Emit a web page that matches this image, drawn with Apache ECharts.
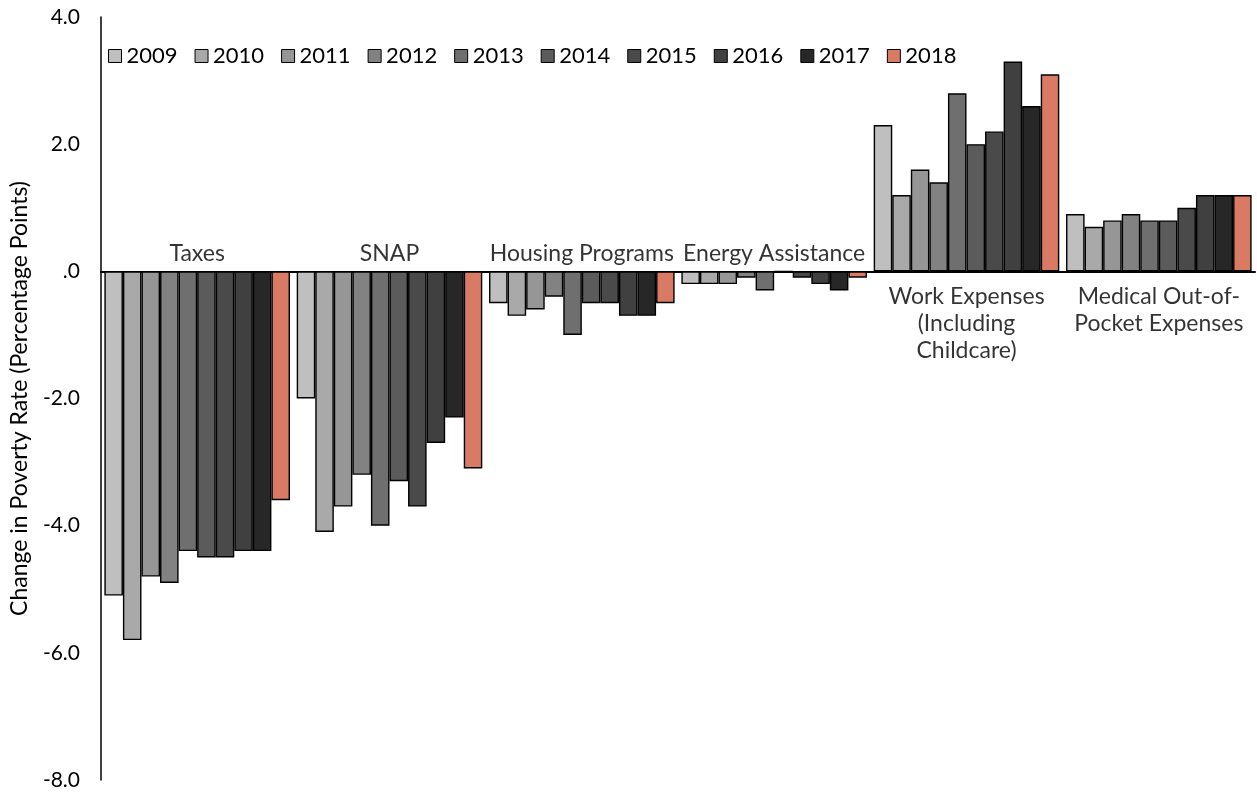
<!DOCTYPE html>
<html>
<head>
    <meta charset="UTF-8">
    <title>Change in Poverty Rate</title>
    <style>
        html, body { margin: 0; padding: 0; background: #fff; }
    </style>
</head>
<body>
<div id="container" style="width:1257px;height:795px;"></div>
<script type="text/javascript" src="https://cdn.jsdelivr.net/npm/echarts@6/dist/echarts.min.js"></script>
<script type="text/javascript">
    // categories (resource / expense elements)
    var categories = ['Taxes', 'SNAP', 'Housing Programs', 'Energy Assistance',
        'Work Expenses\n(Including\nChildcare)', 'Medical Out-of-\nPocket Expenses'];
    var years = ['2009', '2010', '2011', '2012', '2013', '2014', '2015', '2016', '2017', '2018'];

    // values per category, 2009..2018
    var taxes    = [-5.1, -5.8, -4.8, -4.9, -4.4, -4.5, -4.5, -4.4, -4.4, -3.6];
    var snap     = [-2.0, -4.1, -3.7, -3.2, -4.0, -3.3, -3.7, -2.7, -2.3, -3.1];
    var housing  = [-0.5, -0.7, -0.6, -0.4, -1.0, -0.5, -0.5, -0.7, -0.7, -0.5];
    var energy   = [-0.2, -0.2, -0.2, -0.1, -0.3, 0.0, -0.1, -0.2, -0.3, -0.1];
    var work     = [2.3, 1.2, 1.6, 1.4, 2.8, 2.0, 2.2, 3.3, 2.6, 3.1];
    var medical  = [0.9, 0.7, 0.8, 0.9, 0.8, 0.8, 1.0, 1.2, 1.2, 1.2];

    var colors = ['#bfbfbf', '#a9a9a9', '#969696', '#828282', '#6f6f6f',
        '#5b5b5b', '#4a4a4a', '#404040', '#272727', '#d97a64'];

    var rows = [taxes, snap, housing, energy, work, medical];
    var font = 'Lato';

    var dom = document.getElementById("container");
    var myChart = echarts.init(dom);

    var series = years.map(function (y, i) {
        return {
            name: y,
            type: 'bar',
            barGap: '0%',
            barCategoryGap: '3.5%',
            itemStyle: {
                color: colors[i],
                borderColor: '#000',
                borderWidth: 1.4
            },
            data: rows.map(function (r) { return r[i]; })
        };
    });

    // category names sit on the zero line: above it for the negative groups, below for the positive ones
    series.push({
        type: 'scatter',
        silent: true,
        symbolSize: 1,
        itemStyle: { color: 'transparent' },
        z: 5,
        label: {
            show: true,
            fontSize: 23,
            lineHeight: 27,
            color: '#000',
            fontFamily: font,
            formatter: function (p) { return categories[p.dataIndex]; }
        },
        data: categories.map(function (c, i) {
            var neg = rows[i][0] < 0;
            return {
                value: [i, 0],
                label: { position: neg ? 'top' : 'bottom', distance: neg ? 4 : 11 }
            };
        })
    });

    var option = {
        animation: false,
        textStyle: { fontFamily: font },
        legend: {
            data: years,
            left: 103,
            top: 40,
            itemWidth: 13,
            itemHeight: 13,
            itemGap: 17,
            icon: 'rect',
            itemStyle: { borderColor: '#000', borderWidth: 1 },
            textStyle: { fontSize: 22, color: '#000', fontFamily: font }
        },
        grid: { left: 101, right: 2, top: 17, bottom: 15, outerBoundsMode: 'none', containLabel: false },
        xAxis: {
            type: 'category',
            data: categories,
            axisLine: { onZero: true, lineStyle: { color: '#000', width: 2 } },
            axisTick: { show: false },
            axisLabel: { show: false }
        },
        yAxis: {
            type: 'value',
            min: -8,
            max: 4,
            interval: 2,
            name: 'Change in Poverty Rate (Percentage Points)',
            nameLocation: 'middle',
            nameGap: 70,
            nameTextStyle: { fontSize: 23, color: '#000', fontFamily: font },
            axisLine: { show: true, lineStyle: { color: '#000', width: 1.5 } },
            axisTick: { show: false },
            splitLine: { show: false },
            axisLabel: {
                margin: 21,
                fontSize: 21,
                color: '#000',
                fontFamily: font,
                formatter: function (v) { return v === 0 ? '.0' : v.toFixed(1); }
            }
        },
        series: series
    };

    myChart.setOption(option);
</script>
</body>
</html>
